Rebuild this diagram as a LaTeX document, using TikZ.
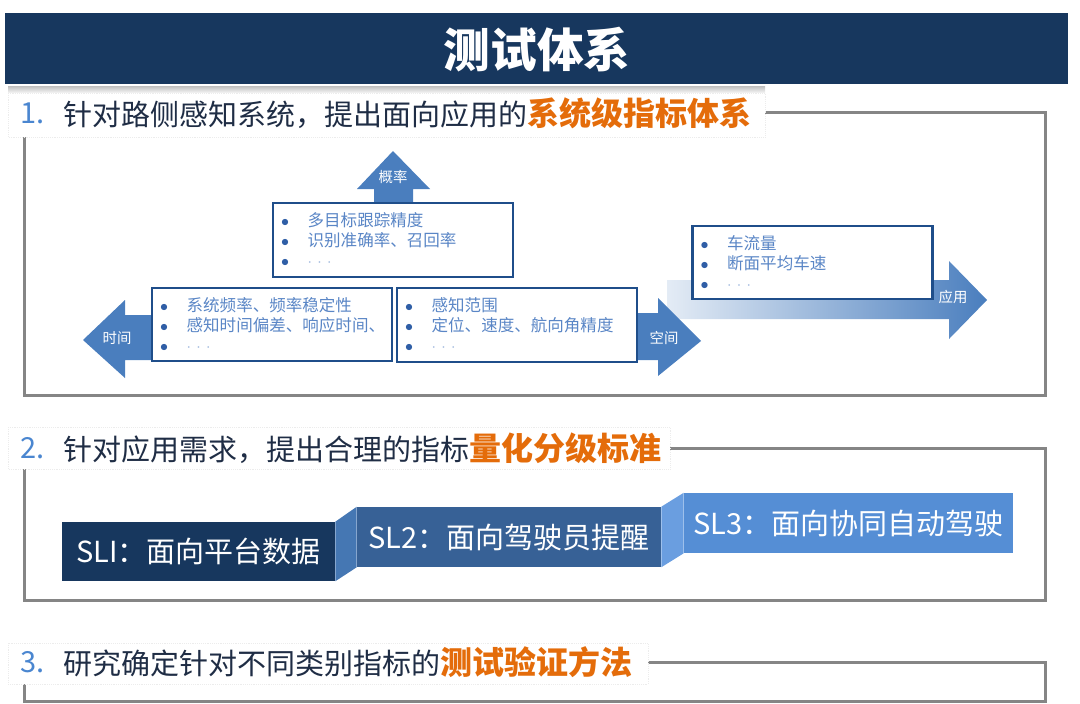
\documentclass[tikz,border=0pt]{standalone}
\usepackage{fontspec}
\setmainfont{Noto Sans CJK SC}

\definecolor{bannerblue}{HTML}{17375E}
\definecolor{framegray}{HTML}{858585}
\definecolor{numblue}{HTML}{4A86D0}
\definecolor{headnavy}{HTML}{1F2D45}
\definecolor{keyorange}{HTML}{E46C0A}
\definecolor{arrowblue}{HTML}{4A7EBE}
\definecolor{boxline}{HTML}{1F4E8A}
\definecolor{itemblue}{HTML}{5A86C6}
\definecolor{dotblue}{HTML}{2F5EA6}
\definecolor{slone}{HTML}{17375E}
\definecolor{sltwo}{HTML}{376196}
\definecolor{slthree}{HTML}{558ED5}
\definecolor{joinone}{HTML}{4577B3}
\definecolor{jointwo}{HTML}{6A9EE0}

\newcommand{\itm}[1]{{\color{dotblue}\makebox[20pt][l]{$\bullet$}}#1}
\newcommand{\moredots}{{\color{itemblue!60}${\cdot}\hspace{4pt}{\cdot}\hspace{4pt}{\cdot}$}}
\newcommand{\keytext}{\fontsize{24}{28}\selectfont\bfseries\color{keyorange}}

\begin{document}
\begin{tikzpicture}[x=0.75pt, y=-0.75pt,
  framebox/.style={draw=framegray, line width=2.25pt},
  headbox/.style={fill=white, draw=gray!15, densely dotted},
  titletext/.style={text=white, font=\fontsize{35}{40}\selectfont\bfseries},
  numtext/.style={anchor=west, inner sep=0pt, text=numblue, font=\fontsize{21.75}{26}\selectfont},
  headtext/.style={anchor=west, inner sep=0pt, text=headnavy, font=\fontsize{21.75}{26}\selectfont},
  arrowlabel/.style={text=white, inner sep=0pt, font=\fontsize{10.8}{12}\selectfont},
  itembox/.style={draw=boxline, line width=1.6pt, fill=white, text=itemblue,
    text width=168pt, inner xsep=6pt, inner ysep=0pt, minimum height=55pt,
    align=left, font=\fontsize{12.4}{15}\selectfont},
  slbox/.style={inner sep=0pt, text=white, font=\fontsize{21.75}{26}\selectfont}]

\useasboundingbox (0,0) rectangle (1080,703);

% ========== 标题 ==========
\fill[bannerblue] (5,13) rectangle (1068,84);
\node[titletext] (title) at (537,50) {测试体系};

% ========== 1. 系统级指标体系 ==========
\draw[framebox] (24.5,112) rectangle (1045.5,395);
\shade[top color=gray!50, bottom color=white] (8,86) rectangle (765,94);
\filldraw[headbox] (8,93) rectangle (765,137);
\node[numtext] (num1) at (20,113) {1.};
\node[headtext] (head1) at (63,113) {针对路侧感知系统，提出面向应用的{\keytext 系统级指标体系}};

% 箭头
\shade[left color=arrowblue!15, right color=arrowblue] (667,280) -- (949,280) -- (949,261) -- (987,300) -- (949,339) -- (949,319) -- (667,319) -- cycle;
\fill[arrowblue] (374,204) -- (374,189) -- (357,189) -- (393,151) -- (430,189) -- (413,189) -- (413,204) -- cycle;
\fill[arrowblue] (152,315) -- (125,315) -- (125,300) -- (83,340) -- (125,378) -- (125,360) -- (152,360) -- cycle;
\fill[arrowblue] (637,313) -- (658,313) -- (658,298) -- (701,341) -- (658,376) -- (658,360) -- (637,360) -- cycle;
\node[arrowlabel] (lblprob) at (393,177) {概率};
\node[arrowlabel] (lbltime) at (117,338) {时间};
\node[arrowlabel] (lblspace) at (664,338) {空间};
\node[arrowlabel] (lblapp) at (953,297) {应用};

% 指标框
\node[itembox] (boxprob) at (393,240) {\itm{多目标跟踪精度}\\ \itm{识别准确率、召回率}\\ \itm{\moredots}};
\node[itembox] (boxtime) at (272,324.5) {\itm{系统频率、频率稳定性}\\ \itm{感知时间偏差、响应时间、}\\ \itm{\moredots}};
\node[itembox] (boxspace) at (517,325) {\itm{感知范围}\\ \itm{定位、速度、航向角精度}\\ \itm{\moredots}};
\node[itembox] (boxapp) at (812.5,262.5) {\itm{车流量}\\ \itm{断面平均车速}\\ \itm{\moredots}};

% ========== 2. 量化分级标准 ==========
\draw[framebox] (24.5,448) rectangle (1045.5,600);
\filldraw[headbox] (8,427) rectangle (670,469);
\node[numtext] (num2) at (20,448) {2.};
\node[headtext] (head2) at (63,448) {针对应用需求，提出合理的指标{\keytext 量化分级标准}};

\node[slbox, fill=slone, minimum width=204.75pt, minimum height=44.25pt] (sl1) at (198.5,551.5) {SLI：面向平台数据};
\node[slbox, fill=sltwo, minimum width=228pt, minimum height=45pt] (sl2) at (509,537) {SL2：面向驾驶员提醒};
\node[slbox, fill=slthree, minimum width=246.75pt, minimum height=45pt] (sl3) at (848.5,523) {SL3：面向协同自动驾驶};
\fill[joinone] (sl1.north east) -- (sl2.north west) -- (sl2.south west) -- (sl1.south east) -- cycle;
\fill[jointwo] (sl2.north east) -- (sl3.north west) -- (sl3.south west) -- (sl2.south east) -- cycle;

% ========== 3. 测试验证方法 ==========
\draw[framebox] (24.5,662) rectangle (1045.5,701);
\filldraw[headbox] (8,643) rectangle (648,684);
\node[numtext] (num3) at (20,662) {3.};
\node[headtext] (head3) at (63,662) {研究确定针对不同类别指标的{\keytext 测试验证方法}};
\end{tikzpicture}
\end{document}
